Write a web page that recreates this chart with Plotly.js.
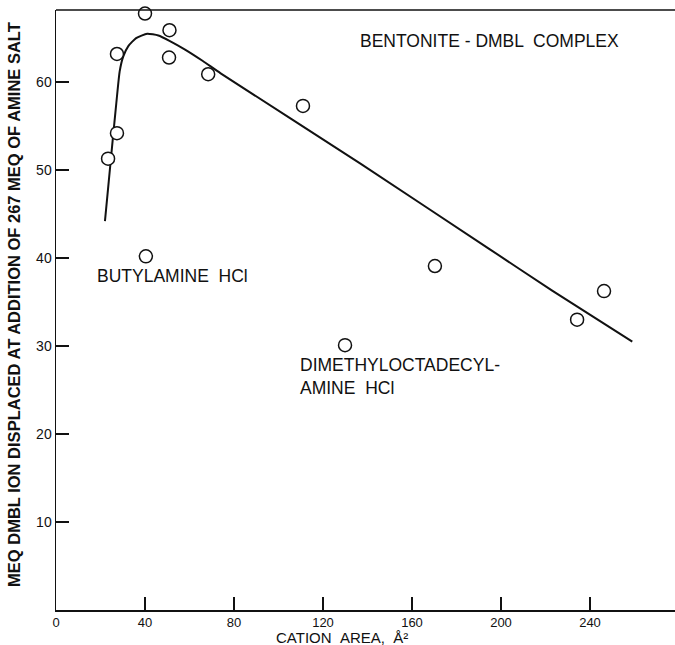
<!DOCTYPE html>
<html>
<head>
<meta charset="utf-8">
<script src="https://cdn.plot.ly/plotly-3.0.1.min.js"></script>
<style>html,body{margin:0;padding:0;background:#fff;}#chart{width:675px;height:645px;}</style>
</head>
<body>
<div id="chart"></div>
<script>
// Measured data points: cation area (Å²) vs meq DMBL ion displaced
const pointsX = [40, 51, 27.4, 50.8, 68.4, 111, 27.4, 23.4, 40.4, 170.3, 129.9, 234.2, 246.3];
const pointsY = [67.8, 65.9, 63.2, 62.8, 60.9, 57.3, 54.2, 51.3, 40.2, 39.1, 30.1, 33.0, 36.25];

// Hand-drawn fitted curve
const curveX = [22, 23.7, 25.4, 27.1, 28.6, 30.2, 32.5, 36, 41, 46, 51, 58, 66, 74, 137, 195, 223, 259];
const curveY = [44.2, 48.7, 53.2, 57.6, 61.2, 62.9, 64.1, 65.0, 65.5, 65.3, 64.7, 63.7, 62.4, 61.0, 50.7, 41.0, 36.3, 30.5];

const xTicks = [0, 40, 80, 120, 160, 200, 240];
const yTicks = [10, 20, 30, 40, 50, 60];

const FONT = 'Liberation Sans, Arial, sans-serif';

const traces = [
  {
    x: curveX, y: curveY, mode: 'lines', type: 'scatter',
    line: {color: '#111', width: 2, shape: 'spline', smoothing: 0.5},
    hoverinfo: 'skip', showlegend: false
  },
  {
    x: pointsX, y: pointsY, mode: 'markers', type: 'scatter',
    marker: {symbol: 'circle', size: 13, color: '#fff', line: {color: '#111', width: 1.5}},
    cliponaxis: false, showlegend: false
  }
];

const layout = {
  width: 675, height: 645,
  margin: {l: 56, r: 0, t: 10, b: 35},
  paper_bgcolor: '#fff', plot_bgcolor: '#fff',
  font: {family: FONT, color: '#111', size: 14},
  showlegend: false,
  xaxis: {
    range: [0, 278.2], showgrid: false, zeroline: false,
    showline: true, linecolor: '#111', linewidth: 1.5,
    ticks: 'inside', ticklen: 13, tickwidth: 1.5, tickcolor: '#111',
    tickvals: xTicks, ticktext: xTicks.map(String),
    tickfont: {family: FONT, size: 13, color: '#111'}
  },
  yaxis: {
    range: [0, 68.2], showgrid: false, zeroline: false,
    showline: true, linecolor: '#111', linewidth: 1.5,
    ticks: 'inside', ticklen: 13, tickwidth: 1.5, tickcolor: '#111',
    tickvals: yTicks, ticktext: yTicks.map(String),
    tickfont: {family: FONT, size: 14, color: '#111'}
  },
  shapes: [
    {type: 'line', xref: 'paper', yref: 'paper', x0: 0, x1: 1, y0: 1, y1: 1,
     line: {color: '#111', width: 1.5}}
  ],
  annotations: [
    {text: 'BENTONITE - DMBL  COMPLEX', x: 135.7, y: 64.7, xref: 'x', yref: 'y',
     xanchor: 'left', yanchor: 'middle', showarrow: false, font: {size: 17.5}},
    {text: 'BUTYLAMINE  HCl', x: 17.5, y: 37.95, xref: 'x', yref: 'y',
     xanchor: 'left', yanchor: 'middle', showarrow: false, font: {size: 17.5}},
    {text: 'DIMETHYLOCTADECYL-<br>AMINE  HCl', x: 108.8, y: 29.2, xref: 'x', yref: 'y',
     xanchor: 'left', yanchor: 'top', align: 'left', showarrow: false, font: {size: 17.5}},
    {text: 'CATION\u00a0\u00a0AREA,\u00a0\u00a0Å²', x: 0.462, y: -0.046, xref: 'paper', yref: 'paper',
     xanchor: 'center', yanchor: 'middle', borderpad: 0, showarrow: false, font: {size: 15}},
    {text: '<b>MEQ DMBL ION DISPLACED AT ADDITION OF 267 MEQ OF AMINE SALT</b>', x: -0.068, y: 0.51, xref: 'paper', yref: 'paper',
     xanchor: 'center', yanchor: 'middle', textangle: -90, showarrow: false, font: {size: 16.5}}
  ]
};

Plotly.newPlot('chart', traces, layout, {displayModeBar: false, staticPlot: true});
</script>
</body>
</html>
